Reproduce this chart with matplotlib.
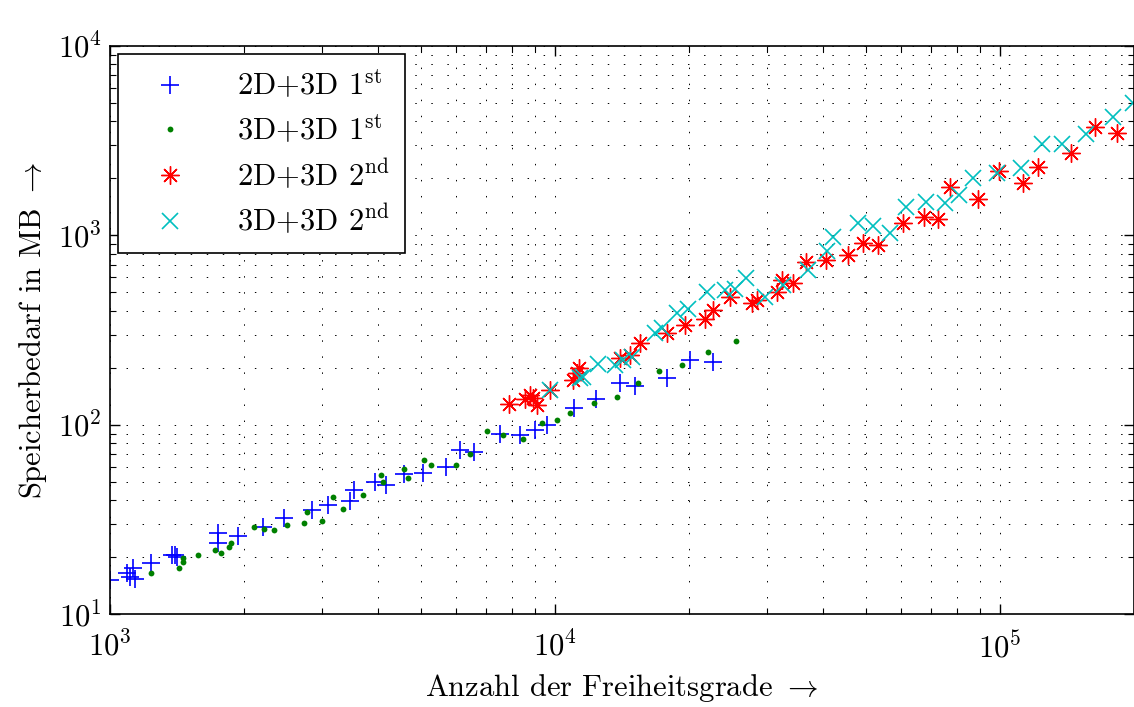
import numpy as np
import matplotlib
matplotlib.use("Agg")
import matplotlib.pyplot as plt

plt.rcParams['font.family'] = ['cmr10', 'DejaVu Serif']
plt.rcParams['mathtext.fontset'] = 'cm'
plt.rcParams['axes.formatter.use_mathtext'] = True

# 2D+3D 1st
dof_a = [1000, 1092, 1109, 1126, 1138, 1236, 1378, 1400, 1414, 1748, 1748, 1940,
         2207, 2460, 2844, 3090, 3462, 3534, 3940, 4171, 4578, 5051, 5689, 6115,
         6577, 7522, 8342, 9017, 9594, 11030, 12370, 14000, 15130, 17850, 20110, 22650]
mem_a = [15.1, 16.5, 15.7, 17.5, 15.3, 18.6, 20.7, 20.5, 20.0, 26.8, 23.7, 25.8,
         28.8, 32.2, 35.4, 37.7, 39.5, 45.2, 49.8, 48.0, 54.9, 55.6, 59.8, 73.5,
         71.8, 89.3, 88.2, 93.8, 99.6, 122.5, 136.7, 166.1, 160.1, 176.5, 219.7, 214.4]

# 3D+3D 1st
dof_b = [1236, 1429, 1459, 1459, 1577, 1722, 1776, 1851, 1870, 2107, 2219, 2336,
         2499, 2729, 2772, 2995, 3171, 3340, 3703, 4064, 4107, 4578, 4673, 5077,
         5264, 5990, 6442, 7035, 7642, 8474, 9350, 10100, 10810, 12240, 13780,
         15370, 17130, 19300, 22070, 25510]
mem_b = [16.5, 17.5, 18.8, 19.8, 20.7, 21.8, 21.0, 22.6, 23.7, 28.8, 28.1, 27.8,
         29.5, 30.3, 34.6, 31.0, 41.5, 35.9, 42.5, 54.2, 49.8, 58.3, 52.3, 65.1,
         61.2, 61.2, 70.0, 92.6, 88.2, 84.0, 102.1, 105.9, 115.3, 130.2, 140.1,
         166.1, 192.1, 206.8, 242.1, 276.8]

# 2D+3D 2nd
dof_c = [7882, 8563, 8787, 8924, 9111, 9745, 10970, 11200, 11320, 14000, 14740,
         15520, 17850, 19600, 21730, 22650, 24740, 27710, 28430, 31540, 32370,
         34250, 36640, 40640, 45540, 49220, 53190, 60530, 67480, 72560, 77200,
         89240, 99500, 112600, 121700, 144400, 163500, 183200]
mem_c = [128.6, 136.7, 143.6, 138.4, 127.1, 152.5, 172.2, 187.5, 199.3, 225.0,
         233.4, 270.1, 305.1, 336.3, 361.8, 403.6, 472.8, 439.6, 455.9, 502.3,
         581.4, 560.6, 723.6, 741.5, 788.0, 911.8, 889.9, 1163, 1251, 1221, 1802,
         1557, 2189, 1891, 2297, 2725, 3738, 3474]

# 3D+3D 2nd
dof_d = [9745, 11380, 11560, 12490, 13640, 14220, 14890, 16780, 17390, 18800,
         19910, 21960, 24100, 25380, 26870, 29640, 32540, 37030, 40850, 42140,
         47960, 51830, 56590, 61500, 68190, 75220, 80890, 86980, 98470, 111500,
         124300, 137800, 156100, 179400, 199100]
mem_d = [152.5, 176.5, 178.6, 209.3, 206.8, 219.7, 227.9, 305.1, 324.2, 389.1,
         408.5, 502.3, 514.7, 521.1, 595.7, 472.8, 547.0, 656.5, 827.0, 980.8,
         1163, 1121, 1030, 1413, 1501, 1483, 1635, 2010, 2136, 2270, 3040, 3040,
         3433, 4222, 5004]

labels = [r'2D+3D 1$^{\mathrm{st}}$', r'3D+3D 1$^{\mathrm{st}}$',
          r'2D+3D 2$^{\mathrm{nd}}$', r'3D+3D 2$^{\mathrm{nd}}$']

fig = plt.figure(figsize=(11.34, 7.07), dpi=100)
ax = fig.add_axes([0.097, 0.131, 0.903, 0.804])

ax.plot(dof_a, mem_a, ls='none', marker='+', ms=13, mew=1.2, color='#0000ff', label=labels[0])
ax.plot(dof_b, mem_b, ls='none', marker='o', ms=4.2, mew=0, color='#008000', label=labels[1])
ax.plot(dof_c, mem_c, ls='none', marker=(8, 2, 0), ms=13, mew=1.0, color='#ff0000', label=labels[2])
ax.plot(dof_d, mem_d, ls='none', marker='x', ms=11, mew=1.2, color='#00bfbf', label=labels[3])

ax.set_xscale('log')
ax.set_yscale('log')
ax.set_xlim(1e3, 2e5)
ax.set_ylim(10, 1e4)

ax.grid(True, which='both', color='k', lw=0.7, ls=(0, (1.5, 15)))
ax.tick_params(which='both', direction='in', top=True, right=True, labelsize=22)
ax.tick_params(axis='x', pad=12)
ax.tick_params(axis='y', pad=6)
ax.tick_params(which='major', length=7, width=1)
ax.tick_params(which='minor', length=4, width=0.8)
for s in ax.spines.values():
    s.set_linewidth(1.2)

ax.set_xlabel(r'Anzahl der Freiheitsgrade $\rightarrow$', fontsize=22, labelpad=6)
ax.set_ylabel(r'Speicherbedarf in MB $\rightarrow$', fontsize=22, labelpad=6)

leg = ax.legend(loc='upper left', fontsize=22, fancybox=False, framealpha=1,
                edgecolor='k', borderpad=0.5, labelspacing=0.38, handletextpad=1.0,
                borderaxespad=0.25, handlelength=2.4)
leg.get_frame().set_linewidth(1.2)

fig.savefig('out.png', dpi=100)
